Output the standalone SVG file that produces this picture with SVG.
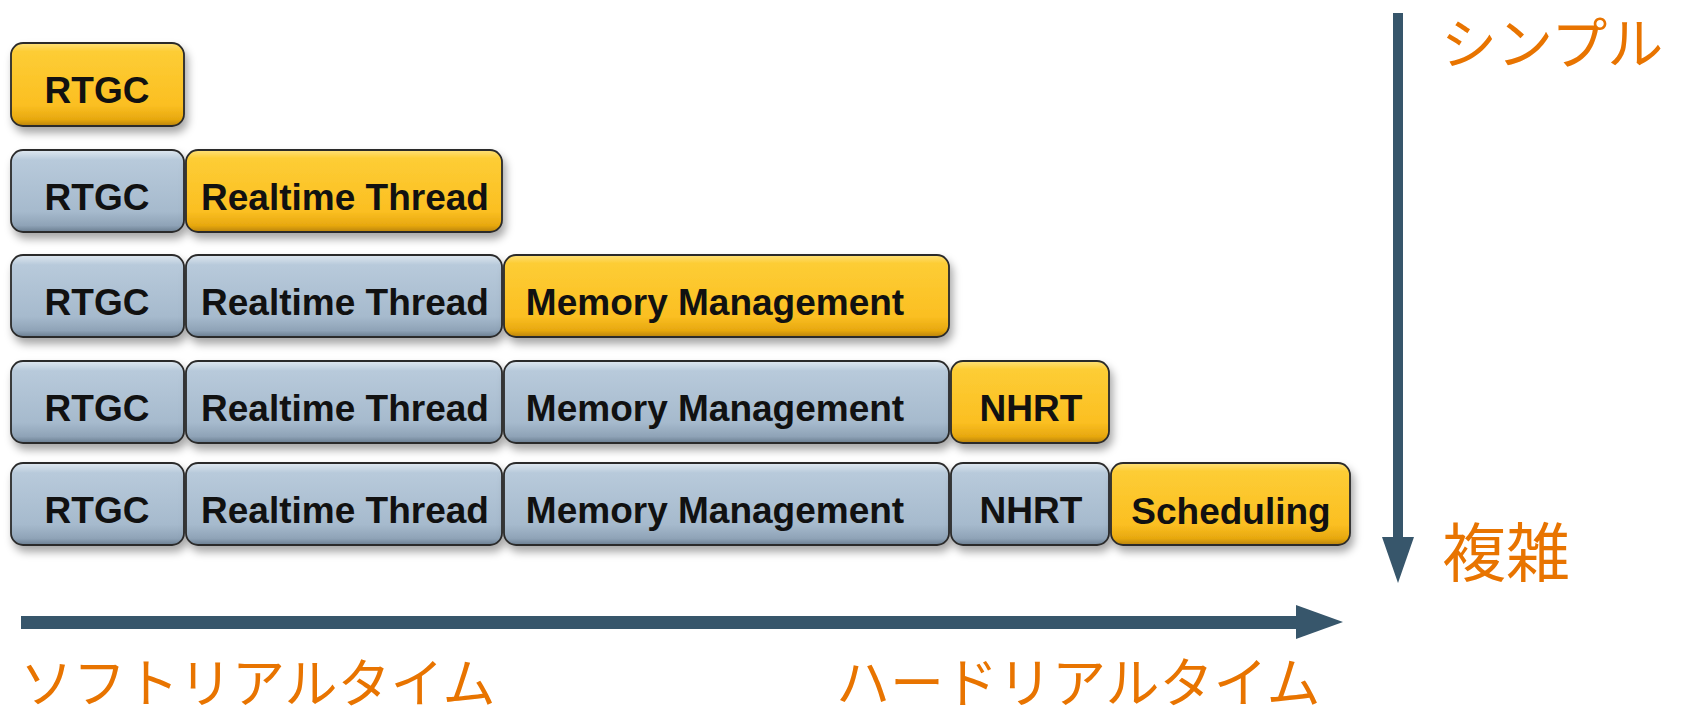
<svg xmlns="http://www.w3.org/2000/svg" width="1688" height="716" viewBox="0 0 1688 716">
<style>
.box{stroke:#2b2b2b;stroke-width:1.8;filter:url(#sh)}
.y{fill:url(#gy)}
.b{fill:url(#gb)}
.lbl{font-family:"Liberation Sans",Arial,sans-serif;font-weight:bold;font-size:37px;fill:#111;text-anchor:middle}
.jp{font-family:"Noto Sans CJK JP",sans-serif;fill:#e87400}
.ax{fill:#37566b}
</style>
<defs>
<linearGradient id="gy" x1="0" y1="0" x2="0" y2="1">
<stop offset="0" stop-color="#fee07a"/>
<stop offset="0.1" stop-color="#fdcd35"/>
<stop offset="0.75" stop-color="#fbbf22"/>
<stop offset="0.92" stop-color="#e7a80f"/>
<stop offset="1" stop-color="#b98305"/>
</linearGradient>
<linearGradient id="gb" x1="0" y1="0" x2="0" y2="1">
<stop offset="0" stop-color="#dfe8f0"/>
<stop offset="0.12" stop-color="#b8cadb"/>
<stop offset="0.75" stop-color="#a6bacd"/>
<stop offset="0.92" stop-color="#8fa3b7"/>
<stop offset="1" stop-color="#6a7d90"/>
</linearGradient>
<filter id="sh" x="-10%" y="-20%" width="130%" height="150%">
<feDropShadow dx="3" dy="6" stdDeviation="4" flood-color="#000" flood-opacity="0.35"/>
</filter>
</defs>

<g id="row1">
<g id="r1-rtgc"><rect class="box y" x="11" y="43" width="173" height="83" rx="12"/><text class="lbl" x="97" y="103">RTGC</text></g>
</g>
<g id="row2">
<g id="r2-rtgc"><rect class="box b" x="11" y="150" width="173" height="82" rx="12"/><text class="lbl" x="97" y="210">RTGC</text></g>
<g id="r2-rt"><rect class="box y" x="186" y="150" width="316" height="82" rx="12"/><text class="lbl" x="345" y="210">Realtime Thread</text></g>
</g>
<g id="row3">
<g id="r3-rtgc"><rect class="box b" x="11" y="255" width="173" height="82" rx="12"/><text class="lbl" x="97" y="315">RTGC</text></g>
<g id="r3-rt"><rect class="box b" x="186" y="255" width="316" height="82" rx="12"/><text class="lbl" x="345" y="315">Realtime Thread</text></g>
<g id="r3-mm"><rect class="box y" x="504" y="255" width="445" height="82" rx="12"/><text class="lbl" x="715" y="315">Memory Management</text></g>
</g>
<g id="row4">
<g id="r4-rtgc"><rect class="box b" x="11" y="361" width="173" height="82" rx="12"/><text class="lbl" x="97" y="421">RTGC</text></g>
<g id="r4-rt"><rect class="box b" x="186" y="361" width="316" height="82" rx="12"/><text class="lbl" x="345" y="421">Realtime Thread</text></g>
<g id="r4-mm"><rect class="box b" x="504" y="361" width="445" height="82" rx="12"/><text class="lbl" x="715" y="421">Memory Management</text></g>
<g id="r4-nhrt"><rect class="box y" x="951" y="361" width="158" height="82" rx="12"/><text class="lbl" x="1031" y="421">NHRT</text></g>
</g>
<g id="row5">
<g id="r5-rtgc"><rect class="box b" x="11" y="463" width="173" height="82" rx="12"/><text class="lbl" x="97" y="523">RTGC</text></g>
<g id="r5-rt"><rect class="box b" x="186" y="463" width="316" height="82" rx="12"/><text class="lbl" x="345" y="523">Realtime Thread</text></g>
<g id="r5-mm"><rect class="box b" x="504" y="463" width="445" height="82" rx="12"/><text class="lbl" x="715" y="523">Memory Management</text></g>
<g id="r5-nhrt"><rect class="box b" x="951" y="463" width="158" height="82" rx="12"/><text class="lbl" x="1031" y="523">NHRT</text></g>
<g id="r5-sched"><rect class="box y" x="1111" y="463" width="239" height="82" rx="12"/><text class="lbl" x="1231" y="524">Scheduling</text></g>
</g>

<g id="connectors">
<rect class="ax" x="1393" y="13" width="10" height="526"/>
<polygon class="ax" points="1382,537 1414,537 1398,583"/>
<rect class="ax" x="21" y="616" width="1277" height="13"/>
<polygon class="ax" points="1296,605 1296,639 1343,622"/>
</g>

<g id="labels">
<text class="jp" x="1441" y="64" font-size="56">シンプル</text>
<text class="jp" x="1442" y="576" font-size="64">複雑</text>
<text class="jp" x="20" y="703" font-size="53">ソフトリアルタイム</text>
<text class="jp" x="836" y="703" font-size="54">ハードリアルタイム</text>
</g>
</svg>
